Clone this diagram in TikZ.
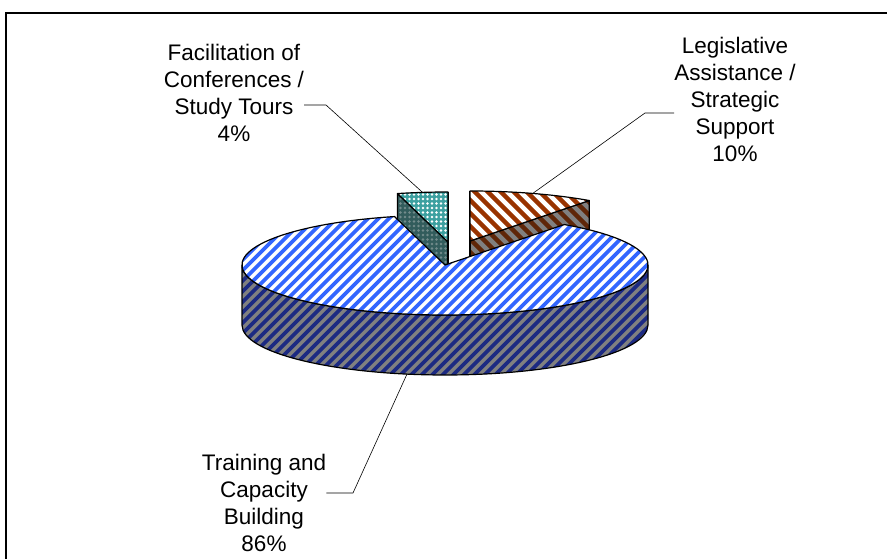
\documentclass[tikz,border=0pt]{standalone}
\usepackage{fontspec}
\setmainfont{Liberation Sans}
\usetikzlibrary{calc,patterns.meta}
\definecolor{stripeblue}{RGB}{51,102,255}
\definecolor{stripenavy}{RGB}{28,42,130}
\definecolor{sidegrey}{RGB}{128,128,128}
\definecolor{rust}{RGB}{153,51,0}
\definecolor{darkrust}{RGB}{95,38,8}
\definecolor{tealfill}{RGB}{60,160,160}
\definecolor{tealdark}{RGB}{50,92,92}
\definecolor{tealdot}{RGB}{115,140,140}
% clip a face, lay stripes in it, then outline it
\newcommand{\hatchfill}[6]{%
	\begin{scope}
		\clip #1;
		\fill[#2] (200,150) rectangle (700,420);
		\foreach \i in {0,...,160}
			\draw[#3, line width=#4] ({-400+\i*#5},150) -- ++({#6*300},300);
	\end{scope}
	\draw[edge] #1;}

\begin{document}
\begin{tikzpicture}[x=1pt,y=1pt,
	edge/.style={line width=1.2pt, line join=round},
	leader/.style={line width=0.6pt},
	lbl/.style={align=center, inner sep=0pt, font=\fontsize{22.5}{27}\selectfont},
	tealtop/.style={preaction={fill=tealfill}, pattern={Dots[distance=4.5pt,radius=1.4pt]}, pattern color=white},
	tealside/.style={preaction={fill=tealdark}, pattern={Dots[distance=4.5pt,radius=1.4pt]}, pattern color=tealdot}]
			%%%%% START %%%%%
			\useasboundingbox (0,0) rectangle (887,559);
			\draw[line width=1.3pt] (6,0) -- (6,546) -- (887,546);
			
			% slice centres (exploded)
			\coordinate (B) at (445,294);
			\coordinate (O) at (470,318);
			\coordinate (T) at (448,317);
			
			% facilitation slice
			\draw[edge, tealside] (T) -- ++(104.4:203 and 50) -- ++(0,-60) -- ($(T)+(0,-60)$) -- cycle;
			\draw[edge] ($(T)+(0,50)$) -- ($(T)+(0,-60)$);
			\draw[edge, tealtop] (T) -- ++(0,50) arc[start angle=90, end angle=104.4, x radius=203, y radius=50] -- cycle;
			
			% legislative slice
			\hatchfill{(O) -- ++(54:203 and 50) -- ++(0,-60) -- ($(O)+(0,-60)$) -- cycle}{sidegrey}{darkrust}{4.5pt}{13}{-1}
			\draw[edge] ($(O)+(0,50)$) -- ($(O)+(0,-60)$);
			\hatchfill{(O) -- ++(54:203 and 50) arc[start angle=54, end angle=90, x radius=203, y radius=50] -- cycle}{white}{rust}{4.5pt}{13}{-1}
			
			% training slice
			\hatchfill{($(B)+(-203,0)$) arc[start angle=180, end angle=360, x radius=203, y radius=50] -- ++(0,-60) arc[start angle=360, end angle=180, x radius=203, y radius=50] -- cycle}{sidegrey}{stripenavy}{3.7pt}{10.5}{1}
			\hatchfill{(B) -- ++(104.4:203 and 50) arc[start angle=104.4, end angle=414, x radius=203, y radius=50] -- cycle}{white}{stripeblue}{3.7pt}{10.5}{1}
			
			% labels
			\node[lbl] (flab) at (234,466) {Facilitation of\\Conferences /\\Study Tours\\4\%};
			\node[lbl] (llab) at (735,460) {Legislative\\Assistance /\\Strategic\\Support\\10\%};
			\node[lbl] (tlab) at (264,56) {Training and\\Capacity\\Building\\86\%};
			
			\coordinate (fbend) at (326,454);
			\coordinate (fpie) at ($(T)+(97.2:203 and 50)$);
			\coordinate (lbend) at (645,446);
			\coordinate (lpie) at ($(O)+(72:203 and 50)$);
			\coordinate (tbend) at (353,66);
			\coordinate (tpie) at ($(B)+(-100.8:203 and 50)+(0,-60)$);
			\draw[leader] (flab.east |- fbend) -- (fbend) -- (fpie);
			\draw[leader] (llab.west |- lbend) -- (lbend) -- (lpie);
			\draw[leader] (tlab.east |- tbend) -- (tbend) -- (tpie);
			%%%%% END %%%%%
\end{tikzpicture}
\end{document}
